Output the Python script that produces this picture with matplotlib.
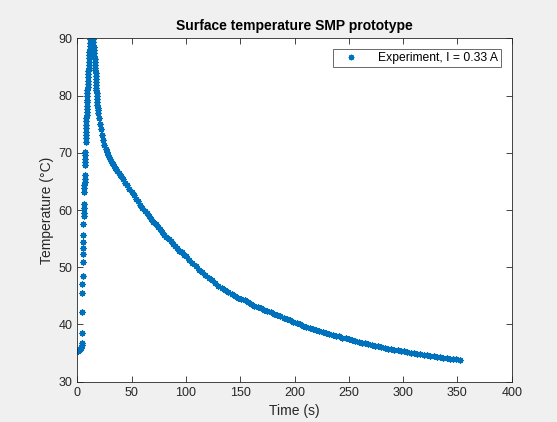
import matplotlib
matplotlib.use("Agg")
from matplotlib import pyplot as plt
import numpy as np

# Readings taken off the reference chart
# heating phase (time in s, temperature in degC)
t_heat = [0.0, 0.4, 0.8, 1.2, 1.6, 2.0, 2.4, 2.8, 3.2, 3.6, 3.9,
          4.1, 4.3, 4.5, 4.6, 4.7, 4.8, 5.0, 5.1, 5.2, 5.3, 5.4, 5.6, 5.8, 5.9, 6.0, 6.1,
          6.4, 6.5, 6.6, 6.7, 6.8, 6.9, 7.1, 7.2, 7.3, 7.4, 7.5, 7.7, 7.8, 7.9, 8.0,
          8.1, 8.2, 8.3, 8.4, 8.5, 8.6, 8.7, 8.8, 8.9, 9.0, 9.1, 9.2, 9.35, 9.5, 9.65,
          9.8, 9.95, 10.1, 10.25, 10.4, 10.55, 10.7, 10.85, 11.0, 11.15, 11.3, 11.45,
          11.6, 11.75]
T_heat = [35.4, 35.5, 35.4, 35.6, 35.5, 35.6, 35.7, 35.8, 35.9, 36.1, 36.4,
          36.7, 38.5, 42.2, 45.5, 47.1, 48.5, 50.9, 52.3, 53.4, 54.4, 55.7, 57.6, 58.9, 59.4, 60.4, 61.0,
          63.2, 63.8, 64.3, 64.9, 65.5, 66.1, 67.9, 68.4, 69.0, 69.6, 70.2, 71.9, 72.5, 73.1, 73.7,
          74.4, 74.9, 75.5, 76.0, 76.6, 77.1, 77.7, 78.2, 78.8, 79.3, 79.9, 80.4, 81.0, 81.5, 82.1,
          82.6, 83.2, 83.7, 84.3, 84.8, 85.4, 85.9, 86.5, 87.0, 87.6, 88.1, 88.7,
          89.2, 89.8]

# fast cooling right after the peak
t_cool = [12.3, 13.0, 13.7, 14.4, 14.7, 14.9, 15.1, 15.3, 15.5, 15.7, 15.9, 16.1, 16.3,
          16.5, 16.7, 16.8, 16.9, 17.0, 17.2, 17.3, 17.4, 17.5, 17.7, 17.9, 18.1, 18.3,
          18.5, 18.8, 19.1, 19.4]
T_cool = [90.2, 90.3, 90.1, 89.9, 89.4, 88.9, 88.4, 87.9, 87.4, 86.9, 86.4, 85.9, 85.4,
          84.9, 84.4, 83.9, 83.4, 82.9, 82.4, 81.9, 81.4, 80.9, 80.4, 79.9, 79.4, 78.9,
          78.4, 77.9, 77.4, 76.9]

# slow decay
t_decay = [20, 21, 22, 23, 24, 25, 26, 27, 28, 29, 30, 31, 32, 33, 34, 35, 36, 37, 38, 39, 40,
           42, 44, 46, 48, 50, 52, 54, 56, 58, 60, 62, 64, 66, 68, 70, 72, 74, 76, 78, 80,
           82, 84, 86, 88, 90, 92, 94, 96, 98, 100,
           103, 106, 109, 112, 115, 118, 121, 124, 127, 130, 133, 136, 139, 142, 145, 148,
           151, 154, 157, 160, 163, 166, 169, 172, 175, 178, 181, 184, 187, 190, 193, 196,
           199, 202, 205, 208, 211, 214, 217, 220, 223, 226, 229, 232, 235, 238, 241, 244,
           247, 250, 253, 256, 259, 262, 265, 268, 271, 274, 277, 280, 283, 286, 289, 292,
           295, 298, 301, 304, 307, 310, 313, 316, 319, 322, 325, 328, 331, 334, 337, 340,
           343, 346, 349, 352]
T_decay = [76.1, 75.1, 74.1, 73.1, 72.2, 71.4, 70.7, 70.1, 69.6, 69.2, 68.9, 68.6, 68.3, 68.0,
           67.7, 67.4, 67.1, 66.8, 66.5, 66.2, 65.9,
           65.4, 64.8, 64.3, 63.7, 63.1, 62.6, 62.0, 61.5, 60.9, 60.4, 59.9, 59.4, 58.9, 58.4,
           57.9, 57.5, 57.0, 56.6, 56.1, 55.7, 55.3, 54.9, 54.5, 54.1, 53.7, 53.3, 52.9, 52.6,
           52.2, 51.9,
           51.3, 50.8, 50.2, 49.6, 49.1, 48.6, 48.1, 47.7, 47.2, 46.8, 46.4, 46.0, 45.6, 45.3,
           45.0, 44.7, 44.45, 44.2, 43.9, 43.6, 43.3, 43.1, 42.8, 42.6, 42.3, 42.1, 41.8, 41.6,
           41.4, 41.1, 40.9, 40.7, 40.5, 40.2, 40.0, 39.8, 39.6, 39.4, 39.2, 39.0, 38.8, 38.7,
           38.5, 38.3, 38.2, 38.0, 37.9, 37.7, 37.6, 37.4, 37.3, 37.1, 37.0, 36.8, 36.7, 36.6,
           36.4, 36.3, 36.2, 36.1, 35.9, 35.8, 35.7, 35.6, 35.5, 35.4, 35.3, 35.2, 35.1, 35.0,
           34.9, 34.8, 34.7, 34.6, 34.5, 34.5, 34.4, 34.3, 34.2, 34.1, 34.0, 34.0, 33.9, 33.8]

time = np.array(t_heat + t_cool + t_decay)
temp = np.array(T_heat + T_cool + T_decay)

plt.rcParams['font.family'] = ['Liberation Sans', 'DejaVu Sans']

fig = plt.figure(figsize=(5.57, 4.22), dpi=100, facecolor='#f0f0f0')
ax = fig.add_axes([0.1388, 0.0955, 0.7799, 0.8137])
ax.set_facecolor('white')

ax.plot(time, temp, linestyle='none', marker=(8, 2, 0), markersize=4.4,
        markeredgewidth=0.9, color='#0072bd', label='Experiment, I = 0.33 A')

ax.set_xlim(0, 400)
ax.set_ylim(30, 90)
ax.set_xticks(np.arange(0, 401, 50))
ax.set_yticks(np.arange(30, 91, 10))

ax.tick_params(direction='in', length=4, width=0.6, colors='#262626', labelsize=9,
               top=True, right=True)
for s in ax.spines.values():
    s.set_color('#262626')
    s.set_linewidth(0.6)

ax.set_xlabel('Time (s)', fontsize=10, color='#262626', labelpad=4)
ax.set_ylabel('Temperature (°C)', fontsize=10, color='#262626', labelpad=3)
ax.set_title('Surface temperature SMP prototype', fontsize=10, fontweight='bold',
             color='black', pad=6)

leg = ax.legend(loc='upper right', fontsize=8.7, frameon=True, fancybox=False,
                borderpad=0.25, handlelength=2.6, handletextpad=0.9,
                borderaxespad=0.9, markerscale=0.9)
leg.get_frame().set_edgecolor('#262626')
leg.get_frame().set_linewidth(0.6)

plt.savefig('out.png', dpi=100, facecolor=fig.get_facecolor())
